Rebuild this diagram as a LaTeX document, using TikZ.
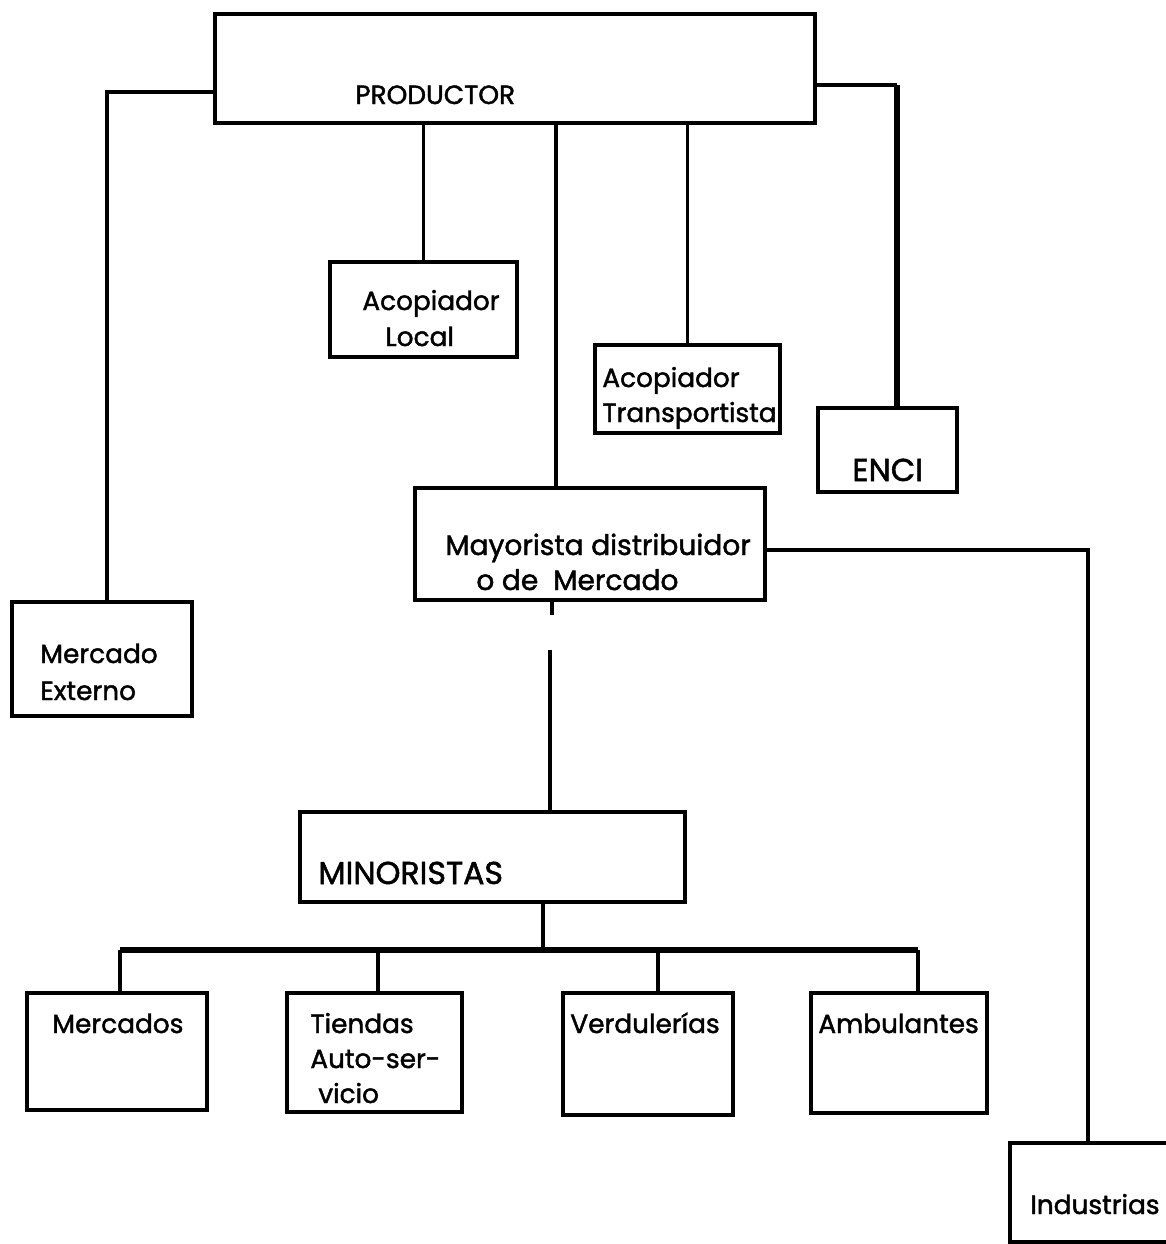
\documentclass[tikz,border=0pt]{standalone}
\usepackage{fontspec}
\setmainfont{Poppins}[FakeBold=1.6]
\begin{document}
\begin{tikzpicture}[x=0.02cm,y=-0.02cm,
  box/.style={draw, line width=2.1pt, inner sep=0pt},
  lbl/.style={inner sep=0pt, anchor=base west, font=\fontsize{15}{18}\selectfont},
  big/.style={font=\fontsize{18}{21}\selectfont},
  mid/.style={font=\fontsize{16}{19}\selectfont},
  conn/.style={line width=2.1pt},
  heavy/.style={line width=3.6pt}]
\useasboundingbox (0,0) rectangle (1166,1244);
% boxes
\node[box, minimum width=12cm, minimum height=2.18cm] (prod) at (515,68.5) {};
\node[box, minimum width=3.74cm, minimum height=1.9cm] (acl) at (423.5,309.5) {};
\node[box, minimum width=3.7cm, minimum height=1.76cm] (act) at (687.5,389) {};
\node[box, minimum width=2.78cm, minimum height=1.68cm] (enci) at (887.5,450) {};
\node[box, minimum width=7cm, minimum height=2.24cm] (may) at (590,544) {};
\node[box, minimum width=3.6cm, minimum height=2.28cm] (mex) at (102,659) {};
\node[box, minimum width=7.7cm, minimum height=1.8cm] (min) at (492.5,857) {};
\node[box, minimum width=3.6cm, minimum height=2.34cm] (mer) at (117,1051.5) {};
\node[box, minimum width=3.5cm, minimum height=2.38cm] (tie) at (374.5,1052.5) {};
\node[box, minimum width=3.4cm, minimum height=2.44cm] (ver) at (648,1054) {};
\node[box, minimum width=3.52cm, minimum height=2.4cm] (amb) at (899,1053) {};
\node[box, minimum width=3.4cm, minimum height=1.98cm] (ind) at (1095,1192.5) {};
% texts
\node[lbl] (prodt) at (355,104) {PRODUCTOR};
\node[lbl] (aclt1) at (362,310) {Acopiador};
\node[lbl] (aclt2) at (385,346) {Local};
\node[lbl] (actt1) at (602,387) {Acopiador};
\node[lbl] (actt2) at (602,422) {Transportista};
\node[lbl,big] (encit) at (852,481) {ENCI};
\node[lbl,mid] (mayt1) at (445,555) {Mayorista distribuidor};
\node[lbl,mid] (mayt2) at (476,590) {o de\ \ Mercado};
\node[lbl] (mext1) at (40,663) {Mercado};
\node[lbl] (mext2) at (40,700) {Externo};
\node[lbl,big] (mint) at (318,884) {MINORISTAS};
\node[lbl] (mert) at (52,1033) {Mercados};
\node[lbl] (tiet1) at (310,1033) {Tiendas};
\node[lbl] (tiet2) at (310,1068) {Auto-ser-};
\node[lbl] (tiet3) at (318,1103) {vicio};
\node[lbl] (vert) at (570,1033) {Verdulerías};
\node[lbl] (ambt) at (818,1033) {Ambulantes};
\node[lbl] (indt) at (1030,1214) {Industrias};
% junction coordinates
\coordinate (jmex) at (107,92);
\coordinate (jmay) at (556,0);
\coordinate (jenci) at (897,85);
\coordinate (jind) at (1088,550);
\coordinate (gapA) at (552,615);
\coordinate (gapB) at (550,650);
\coordinate (bus) at (543,950);
\coordinate (busL) at (120,950);
\coordinate (busR) at (918,950);
\coordinate (dT) at (378,950);
\coordinate (dV) at (658,950);
% connectors
\draw[conn] (prod.west |- jmex) -- (jmex) -- (jmex |- mex.north);
\draw[conn] (acl.north |- prod.south) -- (acl.north);
\draw[conn] (prod.south -| jmay) -- (may.north -| jmay);
\draw[conn] (act.north |- prod.south) -- (act.north);
\draw[conn] (prod.east |- jenci) -- (jenci);
\draw[heavy] (jenci) -- (jenci |- enci.north);
\draw[conn] (may.east |- jind) -- (jind) -- (jind |- ind.north);
\draw[conn] (may.south -| gapA) -- (gapA);
\draw[conn] (gapB) -- (min.north -| gapB);
\draw[conn] (min.south -| bus) -- (bus);
\draw[line width=3pt] (busL) -- (busR);
\draw[conn] (busL) -- (busL |- mer.north);
\draw[conn] (dT) -- (dT |- tie.north);
\draw[conn] (dV) -- (dV |- ver.north);
\draw[conn] (busR) -- (busR |- amb.north);
\end{tikzpicture}
\end{document}
